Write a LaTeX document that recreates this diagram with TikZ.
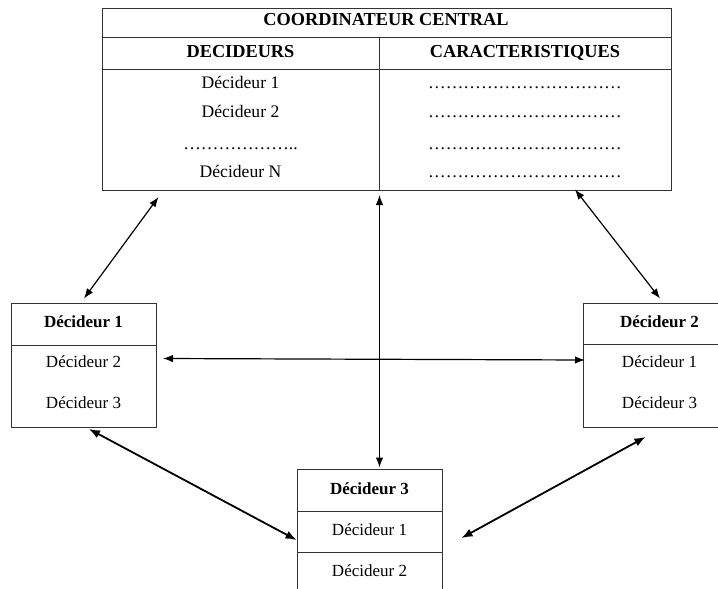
\documentclass[tikz,border=0pt]{standalone}
\usepackage{fontspec}
\setmainfont{Liberation Serif}
\usetikzlibrary{arrows.meta}
\begin{document}
\begin{tikzpicture}[x=1pt,y=-1pt,
  box/.style={draw=black!80, line width=0.9pt, inner sep=0pt, anchor=north west},
  sep/.style={draw=black!80, line width=0.9pt},
  txt/.style={font=\fontsize{17}{20}\selectfont, inner sep=0pt, text height=12pt, text depth=0pt},
  btxt/.style={txt, font=\fontsize{17}{20}\selectfont\bfseries},
  ttxt/.style={txt, font=\fontsize{17.6}{20}\selectfont},
  tbtxt/.style={txt, font=\fontsize{18.3}{21}\selectfont\bfseries},
  tip/.tip={Latex[length=10pt,width=7.5pt]},
  link/.style={line width=1.2pt, tip-tip},
  heavylink/.style={line width=1.8pt, {Latex[length=11pt,width=8.5pt]}-{Latex[length=11pt,width=8.5pt]}}]
\useasboundingbox (0,0) rectangle (718,589);
\clip (0,0) rectangle (718,589);

% central coordinator table
\node[box, minimum width=569pt, minimum height=182pt] (cc) at (102,8) {};
\draw[sep] (102,37) -- (671,37);
\draw[sep] (102,69) -- (671,69);
\draw[sep] (379,37) -- (379,190);
\node[tbtxt] (cct) at (386,19) {COORDINATEUR CENTRAL};
\node[tbtxt] (cch1) at (240.5,51) {DECIDEURS};
\node[tbtxt] (cch2) at (525,51) {CARACTERISTIQUES};
\node[ttxt] (ccl1) at (240.5,82) {Décideur 1};
\node[ttxt] (ccl2) at (240.5,111) {Décideur 2};
\node[ttxt] (ccl3) at (240.5,143) {………………..};
\node[ttxt] (ccl4) at (240.5,171) {Décideur N};
\node[ttxt] (ccr1) at (525,82) {……………………………};
\node[ttxt] (ccr2) at (525,111) {……………………………};
\node[ttxt] (ccr3) at (525,143) {……………………………};
\node[ttxt] (ccr4) at (525,171) {……………………………};

% decideur 1
\node[box, minimum width=145pt, minimum height=124pt] (d1) at (11,303) {};
\draw[sep] (11,345) -- (156,345);
\node[btxt] (d1t) at (83.5,321) {Décideur 1};
\node[txt] (d1a) at (83.5,361) {Décideur 2};
\node[txt] (d1b) at (83.5,402) {Décideur 3};

% decideur 2
\node[box, minimum width=155pt, minimum height=124pt] (d2) at (582.5,303) {};
\draw[sep] (582.5,344) -- (737,344);
\node[btxt] (d2t) at (659.5,321) {Décideur 2};
\node[txt] (d2a) at (659.5,361) {Décideur 1};
\node[txt] (d2b) at (659.5,402) {Décideur 3};

% decideur 3
\node[box, minimum width=145pt, minimum height=140pt] (d3) at (297,469) {};
\draw[sep] (297,511) -- (442,511);
\draw[sep] (297,552) -- (442,552);
\node[btxt] (d3t) at (369.5,488) {Décideur 3};
\node[txt] (d3a) at (369.5,529) {Décideur 1};
\node[txt] (d3b) at (369.5,570) {Décideur 2};

% arrow ends
\coordinate (a1s) at (158.5,197);
\coordinate (a1e) at (84,298.5);
\coordinate (a2s) at (575,189.5);
\coordinate (a2e) at (660,298.5);
\coordinate (a3s) at (379.5,195);
\coordinate (a3e) at (379.5,467.5);
\coordinate (a4s) at (163,358.5);
\coordinate (a4e) at (585,360);
\coordinate (a5s) at (89,429);
\coordinate (a5e) at (296.5,540);
\coordinate (a6s) at (645.5,437);
\coordinate (a6e) at (461.5,538);

\draw[link] (a1s) -- (a1e);
\draw[link] (a2s) -- (a2e);
\draw[link] (a3s) -- (a3e);
\draw[link] (a4s) -- (a4e);
\draw[heavylink] (a5s) -- (a5e);
\draw[heavylink] (a6s) -- (a6e);
\end{tikzpicture}
\end{document}
